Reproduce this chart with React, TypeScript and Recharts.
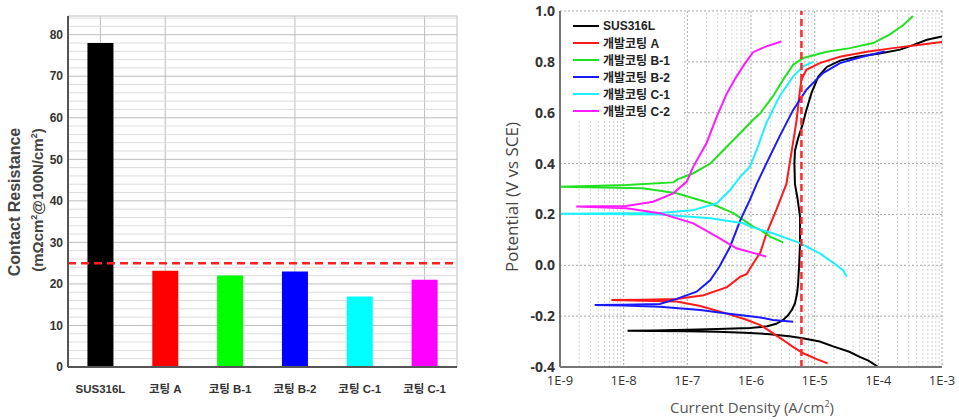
import {
  Bar,
  BarChart,
  CartesianGrid,
  Cell,
  Legend,
  Line,
  LineChart,
  ReferenceLine,
  XAxis,
  YAxis,
} from "recharts";

const FONT_B = '"Liberation Sans", Arial, "Noto Sans CJK KR", sans-serif';
const FONT_R = '"Open Sans", "Noto Sans CJK KR", sans-serif';

// 접촉저항 (좌)
const samples = ["SUS316L", "코팅 A", "코팅 B-1", "코팅 B-2", "코팅 C-1", "코팅 C-1"];
const resistance = [78, 23.2, 22, 23, 17, 21];
const barColors = ["#000000", "#ff0000", "#00ff00", "#0000ff", "#00ffff", "#ff00ff"];
const resistanceTicks = [0, 10, 20, 30, 40, 50, 60, 70, 80];
const resistanceMinor = [2, 4, 6, 8, 12, 14, 16, 18, 22, 24, 26, 28, 32, 34, 36, 38, 42, 44, 46, 48, 52, 54, 56, 58, 62, 64, 66, 68, 72, 74, 76, 78, 82, 84];
const resistanceTarget = 25;

// 동전위분극 (우) : [전류밀도 A/cm2, 전위 V]
const sus316l = [
  [1.0e-4, -0.4], [7e-5, -0.375], [5.1e-5, -0.36], [3.5e-5, -0.34], [2e-5, -0.32], [1.2e-5, -0.3],
  [6.5e-6, -0.287], [4e-6, -0.279], [1.8e-6, -0.27], [8e-7, -0.265], [2.9e-7, -0.261], [1e-7, -0.259],
  [3e-8, -0.258], [1.15e-8, -0.257], [3e-8, -0.256], [1e-7, -0.254], [3e-7, -0.251], [9.5e-7, -0.247],
  [1.8e-6, -0.24], [2.5e-6, -0.23], [3.2e-6, -0.215], [3.8e-6, -0.197], [4.4e-6, -0.175], [4.9e-6, -0.15],
  [5.3e-6, -0.11], [5.5e-6, -0.07], [5.7e-6, 0.0], [5.9e-6, 0.09], [5.9e-6, 0.19], [5.4e-6, 0.26],
  [4.9e-6, 0.32], [4.8e-6, 0.4], [4.9e-6, 0.45], [5.5e-6, 0.5], [6.4e-6, 0.55], [7.4e-6, 0.61],
  [8.9e-6, 0.677], [1.14e-5, 0.742], [1.55e-5, 0.78], [2.5e-5, 0.805], [4.6e-5, 0.82], [1.05e-4, 0.833],
  [2.2e-4, 0.848], [3.5e-4, 0.866], [5.8e-4, 0.887], [1e-3, 0.9],
];
const coatingA = [
  [1.6e-5, -0.386], [1.1e-5, -0.37], [6.6e-6, -0.346], [4.5e-6, -0.32], [3.2e-6, -0.294], [2e-6, -0.26],
  [1.4e-6, -0.235], [8.5e-7, -0.214], [4.2e-7, -0.19], [1.6e-7, -0.16], [6.8e-8, -0.142], [2e-8, -0.139],
  [6.4e-9, -0.137], [2e-8, -0.136], [6.8e-8, -0.133], [1.8e-7, -0.118], [4.2e-7, -0.086], [6.8e-7, -0.045],
  [8.5e-7, -0.035], [1.1e-6, 0.01], [1.4e-6, 0.05], [1.75e-6, 0.125], [2.5e-6, 0.218], [3.6e-6, 0.32],
  [4.3e-6, 0.44], [5.2e-6, 0.57], [5.8e-6, 0.677], [6.2e-6, 0.73], [7.4e-6, 0.769], [1.2e-5, 0.795],
  [2.5e-5, 0.82], [6.6e-5, 0.84], [1.7e-4, 0.854], [4.5e-4, 0.867], [1e-3, 0.878],
];
const coatingB1 = [
  [3.2e-6, 0.09], [2e-6, 0.113], [1.4e-6, 0.139], [1.08e-6, 0.152], [5.3e-7, 0.205], [2.3e-7, 0.244],
  [6.8e-8, 0.283], [2e-8, 0.303], [1e-9, 0.309], [1.1e-8, 0.316], [6e-8, 0.326], [7e-8, 0.338],
  [1.24e-7, 0.362], [2.3e-7, 0.4], [4.2e-7, 0.467], [6.8e-7, 0.52], [1.08e-6, 0.572], [1.4e-6, 0.598],
  [2.2e-6, 0.664], [3.2e-6, 0.73], [4.6e-6, 0.789], [6.6e-6, 0.815], [1.55e-5, 0.84], [3.6e-5, 0.854],
  [8.3e-5, 0.874], [1.5e-4, 0.907], [2.5e-4, 0.946], [3.5e-4, 0.98],
];
const coatingB2 = [
  [4.6e-6, -0.222], [2.2e-6, -0.215], [1.4e-6, -0.205], [4.2e-7, -0.19], [1.6e-7, -0.176], [3.7e-8, -0.163],
  [1e-8, -0.158], [3.5e-9, -0.156], [1e-8, -0.155], [3.7e-8, -0.152], [6.8e-8, -0.132], [1.4e-7, -0.104],
  [2.3e-7, -0.058], [3.2e-7, -0.005], [4.7e-7, 0.073], [6.8e-7, 0.178], [9.6e-7, 0.257], [1.23e-6, 0.32],
  [1.74e-6, 0.4], [2.8e-6, 0.506], [4.6e-6, 0.611], [7.4e-6, 0.69], [1.35e-5, 0.756], [2.5e-5, 0.795],
  [5.8e-5, 0.821], [1.26e-4, 0.841],
];
const coatingC1 = [
  [3.2e-5, -0.045], [2.8e-5, -0.02], [2.2e-5, 0.001], [1.2e-5, 0.047], [5.9e-6, 0.087], [2.2e-6, 0.126],
  [9.6e-7, 0.152], [7.6e-7, 0.165], [2.3e-7, 0.185], [3.7e-8, 0.2], [1e-9, 0.203], [3.7e-8, 0.206],
  [1.2e-7, 0.216], [2.9e-7, 0.244], [4.7e-7, 0.296], [6.8e-7, 0.349], [9.6e-7, 0.388], [1.23e-6, 0.454],
  [1.74e-6, 0.559], [2.8e-6, 0.664], [4.6e-6, 0.743], [6.6e-6, 0.782], [9.5e-6, 0.8],
];
const coatingC2 = [
  [1.74e-6, 0.034], [1.4e-6, 0.041], [5.9e-7, 0.067], [2.9e-7, 0.113], [1.24e-7, 0.165], [3.7e-8, 0.205],
  [1.1e-8, 0.224], [1.8e-9, 0.231], [1.1e-8, 0.233], [2.9e-8, 0.25], [6e-8, 0.283], [9.8e-8, 0.329],
  [1.24e-7, 0.388], [2e-7, 0.48], [2.9e-7, 0.585], [4.2e-7, 0.677], [5.9e-7, 0.742], [8.1e-7, 0.795],
  [1.08e-6, 0.838], [1.74e-6, 0.861], [3e-6, 0.88],
];
const curveNames = ["SUS316L", "개발코팅 A", "개발코팅 B-1", "개발코팅 B-2", "개발코팅 C-1", "개발코팅 C-2"];
const curveColors = ["#000000", "#ff1a1a", "#22e022", "#1a1aff", "#1ff0ff", "#ff1aff"];
const currentTicks = [1e-9, 1e-8, 1e-7, 1e-6, 1e-5, 1e-4, 1e-3];
const potentialTicks = [-0.4, -0.2, 0, 0.2, 0.4, 0.6, 0.8, 1.0];
const currentLimit = 6.2e-6;

const barData = samples.map((name, i) => ({ name, value: resistance[i] }));
const curves = [sus316l, coatingA, coatingB1, coatingB2, coatingC1, coatingC2].map((pts, k) => ({
  name: curveNames[k],
  color: curveColors[k],
  data: pts.map(([i, e]) => ({ i, e })),
}));
const currentMinor = currentTicks.slice(0, -1).flatMap((d) => [2, 3, 4, 5, 6, 7, 8, 9].map((m) => d * m));

function VLabel({ x, y, size, color, font, weight, children }: any) {
  return (
    <div
      style={{
        position: "absolute",
        left: x,
        top: y,
        transform: "translate(-50%, -50%) rotate(-90deg)",
        whiteSpace: "nowrap",
        fontSize: size,
        fontFamily: font,
        fontWeight: weight,
        color,
        lineHeight: 1,
      }}
    >
      {children}
    </div>
  );
}

function CurveLegend() {
  return (
    <div style={{ background: "#fff", width: 123, height: 108, paddingTop: 5, paddingLeft: 12, boxSizing: "border-box" }}>
      {curves.map((c) => (
        <div key={c.name} style={{ display: "flex", alignItems: "center", height: 17 }}>
          <span style={{ display: "inline-block", width: 26, height: 2, background: c.color, marginRight: 4 }} />
          <span style={{ fontSize: 12, fontWeight: 700, fontFamily: FONT_B, color: "#222" }}>{c.name}</span>
        </div>
      ))}
    </div>
  );
}

export default function App() {
  return (
    <div style={{ position: "absolute", left: 0, top: 0, width: 959, height: 420, background: "#fff" }}>
      <div style={{ position: "absolute", left: 0, top: 0 }}>
        <BarChart width={480} height={420} data={barData} margin={{ top: 16, right: 23, left: 0, bottom: 0 }} barCategoryGap="30%">
          <CartesianGrid stroke="#bdbdbd" strokeWidth={1} />
          {resistanceMinor.map((v) => (
            <ReferenceLine key={v} y={v} stroke="#dcdcdc" strokeWidth={1} zIndex={-50} ifOverflow="hidden" />
          ))}
          <XAxis
            dataKey="name"
            height={53}
            axisLine={{ stroke: "#555", strokeWidth: 2 }}
            tickLine={false}
            tickMargin={12}
            tick={{ fontSize: 11.5, fontWeight: 700, fill: "#333", fontFamily: FONT_B }}
          />
          <XAxis xAxisId="top" dataKey="name" orientation="top" height={0} tick={false} tickLine={false} axisLine={{ stroke: "#555", strokeWidth: 2 }} />
          <YAxis
            width={68}
            domain={[0, 84.5]}
            ticks={resistanceTicks}
            allowDataOverflow
            axisLine={{ stroke: "#555", strokeWidth: 2 }}
            tickLine={false}
            tickSize={3}
            tickMargin={2}
            tick={{ fontSize: 12, fontWeight: 700, fill: "#333", fontFamily: FONT_B }}
          />
          <YAxis yAxisId="right" orientation="right" width={0} domain={[0, 1]} tick={false} tickLine={false} axisLine={{ stroke: "#555", strokeWidth: 2 }} />
          <Bar dataKey="value" isAnimationActive={false}>
            {barData.map((d, i) => (
              <Cell key={i} fill={barColors[i]} />
            ))}
          </Bar>
          <ReferenceLine y={resistanceTarget} stroke="#ff2020" strokeWidth={2.5} strokeDasharray="8 5" />
        </BarChart>
      </div>
      <VLabel x={15} y={202} size={16} weight={700} color="#444" font={FONT_B}>
        Contact Resistance
      </VLabel>
      <VLabel x={37} y={200} size={15} weight={700} color="#444" font={FONT_B}>
        (mΩcm<sup style={{ fontSize: "0.6em" }}>2</sup>@100N/cm<sup style={{ fontSize: "0.6em" }}>2</sup>)
      </VLabel>

      <div style={{ position: "absolute", left: 480, top: 0 }}>
        <LineChart width={479} height={420} margin={{ top: 11, right: 17, left: 0, bottom: 0 }}>
          {currentMinor.map((v) => (
            <ReferenceLine key={v} x={v} stroke="#d2d2d2" strokeDasharray="2 2" zIndex={-50} />
          ))}
          <CartesianGrid stroke="#a8a8a8" strokeDasharray="2 2" />
          <XAxis
            dataKey="i"
            type="number"
            scale="log"
            domain={[1e-9, 1e-3]}
            ticks={currentTicks}
            allowDataOverflow
            height={53}
            axisLine={{ stroke: "#777", strokeWidth: 2 }}
            tickLine={false}
            tickMargin={3}
            tickFormatter={(v) => `1E${Math.round(Math.log10(v))}`}
            tick={{ fontSize: 13, fill: "#333", fontFamily: FONT_R }}
          />
          <XAxis xAxisId="top" type="number" scale="log" domain={[1e-9, 1e-3]} allowDataOverflow orientation="top" height={0} tick={false} tickLine={false} axisLine={{ stroke: "#777", strokeWidth: 2 }} />
          <YAxis
            width={80}
            type="number"
            domain={[-0.4, 1.0]}
            ticks={potentialTicks}
            allowDataOverflow
            axisLine={{ stroke: "#777", strokeWidth: 2 }}
            tickLine={false}
            tickSize={3}
            tickMargin={2}
            tickFormatter={(v) => v.toFixed(1)}
            tick={{ fontSize: 14, fontWeight: 700, fill: "#333", fontFamily: FONT_R }}
          />
          <YAxis yAxisId="right" orientation="right" width={0} domain={[-0.4, 1.0]} tick={false} tickLine={false} axisLine={{ stroke: "#777", strokeWidth: 2 }} />
          {curves.map((c) => (
            <Line
              key={c.name}
              data={c.data}
              dataKey="e"
              name={c.name}
              type="linear"
              stroke={c.color}
              strokeWidth={2}
              dot={false}
              activeDot={false}
              isAnimationActive={false}
            />
          ))}
          <ReferenceLine x={currentLimit} stroke="#ff2a2a" strokeWidth={2.5} strokeDasharray="7 4" />
          <Legend
            layout="vertical"
            align="center"
            verticalAlign="middle"
            content={() => <CurveLegend />}
            wrapperStyle={{ left: 81, top: 12, width: 123, height: 108 }}
          />
        </LineChart>
      </div>
      <VLabel x={510.7} y={197} size={17} weight={400} color="#444" font={FONT_R}>
        Potential (V vs SCE)
      </VLabel>
      <div
        style={{
          position: "absolute",
          left: 752,
          top: 407,
          transform: "translate(-50%, -50%)",
          whiteSpace: "nowrap",
          fontSize: 15,
          fontFamily: FONT_R,
          color: "#555",
          lineHeight: 1,
        }}
      >
        Current Density (A/cm<sup style={{ fontSize: "0.6em" }}>2</sup>)
      </div>
    </div>
  );
}
